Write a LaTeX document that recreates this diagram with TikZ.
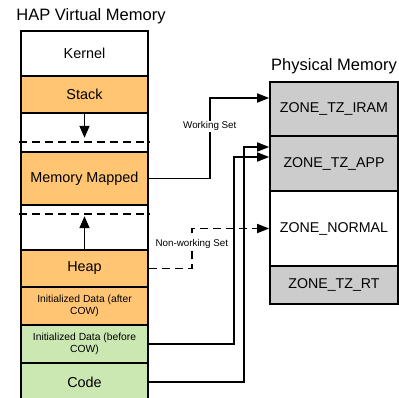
\documentclass[tikz,border=0pt]{standalone}
\usepackage{fontspec}
\setmainfont{Liberation Sans}
\usetikzlibrary{arrows.meta,positioning,calc}
\definecolor{segorange}{RGB}{255,197,115}
\definecolor{seggreen}{RGB}{204,232,178}
\definecolor{zonegray}{RGB}{204,204,204}

\begin{document}
\begin{tikzpicture}[x=1pt, y=-1pt,
    seg/.style={rectangle, draw, line width=1.6pt, minimum width=127pt, inner sep=1pt, align=center, font=\fontsize{14.4}{16}\selectfont},
    small/.style={font=\fontsize{10.3}{12.5}\selectfont},
    zone/.style={rectangle, draw, line width=1.6pt, fill=zonegray, minimum width=128pt, align=center, font=\fontsize{14.2}{16}\selectfont},
    title/.style={font=\fontsize{16.5}{19}\selectfont},
    divider/.style={line width=1.6pt, dash pattern=on 8pt off 5pt},
    arrow/.style={->, line width=1.6pt, >={Triangle[length=12pt,width=9pt]}},
    growarrow/.style={arrow, >={Triangle[length=12pt,width=10pt]}},
    tag/.style={fill=white, inner sep=1pt, font=\fontsize{9.8}{11}\selectfont}
]
    \useasboundingbox (0,0) rectangle (399,398);

    % HAP Virtual Memory
    \node[title] (virtTitle) at (91,16) {HAP Virtual Memory};
    \node[seg, minimum height=45pt] (kernel) at (84.5,53.5) {Kernel};
    \node[seg, fill=segorange, minimum height=37pt] (stack) at (84.5,94.5) {Stack};
    \node[seg, minimum height=39pt] (freeA) at (84.5,132.5) {};
    \node[seg, fill=segorange, minimum height=53pt] (mmap) at (84.5,178.5) {Memory Mapped};
    \node[seg, minimum height=45pt] (freeB) at (84.5,227.5) {};
    \node[seg, fill=segorange, minimum height=37pt] (heap) at (84.5,268.5) {Heap};
    \node[seg, small, fill=segorange, minimum height=38pt] (after) at (84.5,306) {Initialized Data (after\\COW)};
    \node[seg, small, fill=seggreen, minimum height=38pt] (before) at (84.5,344) {Initialized Data (before\\COW)};
    \node[seg, fill=seggreen, minimum height=38pt] (code) at (84.5,382) {Code};

    % growth limits
    \draw[divider] (19,142) -- (150,142);
    \draw[divider] (19,214) -- (150,214);
    \draw[growarrow] (stack.south) -- ([yshift=-24pt]stack.south);
    \draw[growarrow] (heap.north) -- ([yshift=33pt]heap.north);

    % Physical Memory
    \node[title] (physTitle) at (334,66) {Physical Memory};
    \node[zone, minimum height=54pt] (iram) at (334,109) {ZONE\_TZ\_IRAM};
    \node[zone, minimum height=55pt] (app) at (334,163.5) {ZONE\_TZ\_APP};
    \node[zone, fill=white, minimum height=75pt] (normal) at (334,228.5) {ZONE\_NORMAL};
    \node[zone, minimum height=38pt] (rt) at (334,285) {ZONE\_TZ\_RT};

    % Mappings
    \draw[arrow] (mmap.east) -- ++(61,0) |- ([yshift=11pt]iram.west) node[tag, pos=0.325] {Working Set};
    \draw[arrow, dash pattern=on 8pt off 5pt] (heap.east) -- ++(43,0) |- (normal.west) node[tag, pos=0.31] {Non-working Set};
    \draw[arrow] (before.east) -- ++(85,0) |- ([yshift=6.5pt]app.west);
    \draw[arrow] (code.east) -- ++(95,0) |- ([yshift=16.5pt]app.west);
\end{tikzpicture}
\end{document}
